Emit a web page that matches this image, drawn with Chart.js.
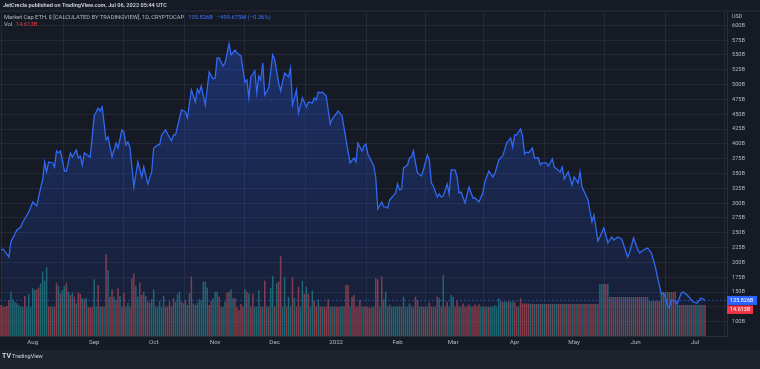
<!DOCTYPE html>
<html>
<head>
<meta charset="utf-8">
<title>Market Cap ETH</title>
<script src="https://cdn.jsdelivr.net/npm/chart.js@4.4.0/dist/chart.umd.min.js"></script>
<style>
  html, body { margin: 0; padding: 0; background: #161a25; }
  #wrap { position: relative; width: 760px; height: 369px; }
</style>
</head>
<body>
<div id="wrap"><canvas id="chart" width="760" height="369"></canvas></div>
<script>
// day 0 = 16 Jul 2021, last bar = 6 Jul 2022 (day 355)
const monthDays = [16, 47, 77, 108, 138, 169, 200, 228, 259, 289, 320, 350];
const monthLabels = ['Aug', 'Sep', 'Oct', 'Nov', 'Dec', '2022', 'Feb', 'Mar', 'Apr', 'May', 'Jun', 'Jul'];

// price axis ticks, billions USD (125B hidden behind the price labels)
const priceTicks = [100, 125, 150, 175, 200, 225, 250, 275, 300, 325, 350, 375, 400, 425, 450, 475, 500, 525, 550, 575, 600];

// market cap line (day index, billions)
const capDays = [
  0, 1, 4, 5, 8, 10, 11, 14, 16, 18,
  20, 21, 22, 23, 24, 26, 27, 28, 29, 30,
  32, 33, 35, 36, 38, 39, 40, 41, 42, 45,
  47, 49, 50, 51, 53, 54, 56, 58, 59, 61,
  62, 63, 64, 65, 67, 69, 71, 72, 74, 76,
  77, 79, 80, 81, 83, 84, 86, 87, 88, 89,
  91, 93, 94, 96, 98, 99, 100, 101, 103, 105,
  107, 108, 109, 110, 112, 113, 115, 116, 118, 119,
  121, 123, 124, 125, 126, 128, 129, 130, 131, 132,
  133, 135, 137, 138, 140, 141, 143, 145, 146, 147,
  149, 150, 152, 154, 155, 157, 158, 159, 160, 161,
  162, 164, 166, 167, 170, 172, 174, 176, 178, 179,
  180, 182, 183, 184, 185, 188, 189, 190, 192, 193,
  194, 195, 196, 199, 200, 201, 202, 203, 205, 206,
  207, 208, 209, 210, 212, 213, 215, 216, 217, 218,
  220, 221, 222, 223, 225, 226, 227, 229, 230, 231,
  232, 234, 236, 238, 239, 241, 243, 244, 246, 248,
  249, 251, 253, 255, 257, 258, 259, 260, 262, 263,
  264, 265, 266, 268, 269, 271, 272, 273, 275, 276,
  278, 279, 282, 283, 284, 286, 288, 289, 291, 292,
  293, 296, 298, 299, 301, 302, 304, 305, 306, 308,
  309, 311, 313, 316, 317, 319, 321, 322, 324, 326,
  328, 330, 331, 333, 334, 335, 336, 337, 338, 340,
  341, 343, 344, 346, 349, 351, 353, 355
];
const capValues = [
  220.9, 222.6, 209.1, 234.4, 254.7, 259.7, 268.2, 285.0, 301.9, 295.2,
  325.5, 339.0, 369.4, 352.5, 369.4, 367.7, 361.0, 387.9, 384.6, 387.9,
  354.2, 354.2, 384.6, 377.8, 389.6, 376.1, 379.5, 364.3, 384.6, 377.8,
  447.0, 460.5, 455.4, 462.2, 406.5, 411.6, 377.8, 401.4, 393.0, 423.4,
  420.0, 398.1, 403.1, 394.7, 327.2, 369.4, 344.1, 361.0, 332.3, 352.5,
  393.0, 398.1, 398.1, 415.0, 423.4, 416.6, 404.8, 415.0, 415.0, 428.9,
  457.1, 453.7, 443.6, 490.9, 470.6, 492.5, 485.8, 497.6, 465.5, 521.2,
  509.4, 511.1, 544.8, 544.8, 531.3, 536.4, 568.5, 549.9, 558.3, 553.3,
  548.2, 504.3, 507.7, 477.4, 512.8, 522.9, 485.8, 514.5, 507.7, 536.4,
  482.4, 494.2, 549.9, 543.1, 502.7, 489.2, 519.5, 512.8, 528.0, 465.5,
  490.9, 451.9, 477.4, 462.2, 470.6, 468.9, 477.4, 474.0, 487.5, 485.8,
  487.5, 480.7, 433.5, 441.9, 455.4, 447.0, 406.5, 367.7, 376.1, 369.4,
  401.4, 387.9, 396.3, 399.7, 382.9, 362.6, 342.4, 290.1, 301.9, 293.5,
  293.5, 291.8, 305.3, 317.1, 332.3, 322.2, 323.8, 359.3, 364.3, 376.1,
  377.8, 387.9, 367.7, 350.8, 345.8, 355.9, 381.2, 372.8, 334.0, 328.9,
  310.3, 315.4, 310.3, 312.0, 332.3, 315.4, 355.9, 355.9, 344.1, 317.1,
  318.8, 300.2, 327.2, 308.6, 308.6, 301.9, 317.1, 335.7, 354.2, 344.1,
  349.2, 372.8, 379.5, 401.4, 409.9, 394.7, 415.0, 415.0, 425.1, 413.3,
  382.9, 386.3, 384.6, 393.0, 376.1, 376.1, 364.3, 367.7, 367.7, 362.6,
  374.4, 361.0, 352.5, 361.0, 340.7, 352.5, 330.6, 344.1, 334.0, 352.5,
  327.2, 305.3, 268.2, 280.0, 236.1, 242.9, 258.0, 246.2, 232.7, 242.9,
  237.8, 242.9, 239.5, 209.1, 217.5, 241.2, 222.6, 215.8, 220.9, 224.3,
  215.8, 192.2, 175.3, 146.6, 148.3, 141.5, 128.0, 123.0, 136.5, 134.8,
  129.7, 148.3, 150.0, 144.9, 133.1, 131.5, 139.9, 135.826
];

// daily volume in billions, one per day from day 0
const volume = [
  14.6, 13.8, 13.8, 14.1, 17.0, 20.9, 17.3, 16.2, 15.4, 14.6,
  13.8, 13.8, 18.9, 13.8, 19.8, 13.8, 22.5, 21.7, 22.0, 22.9,
  24.8, 30.3, 26.1, 32.4, 13.8, 13.8, 13.8, 13.8, 25.1, 23.6,
  20.1, 21.7, 23.6, 25.1, 20.9, 19.3, 20.4, 18.5, 15.4, 20.4,
  19.8, 17.8, 17.3, 18.1, 13.5, 13.5, 13.5, 26.7, 13.8, 24.0,
  13.8, 13.8, 13.8, 38.6, 31.1, 18.5, 22.0, 18.5, 17.0, 22.5,
  18.9, 13.8, 20.4, 13.8, 15.7, 13.8, 27.2, 29.5, 23.6, 18.5,
  25.1, 19.3, 20.9, 18.9, 16.2, 15.7, 17.3, 22.0, 13.8, 13.8,
  16.6, 13.5, 18.9, 13.8, 13.8, 16.2, 13.8, 17.8, 16.2, 19.8,
  20.9, 16.2, 15.4, 17.0, 14.6, 20.1, 28.0, 15.4, 14.6, 15.7,
  17.3, 16.6, 25.6, 25.6, 22.9, 14.6, 16.6, 17.8, 20.9, 20.9,
  18.5, 13.8, 13.8, 16.2, 20.4, 20.9, 22.0, 17.8, 17.8, 13.5,
  12.2, 15.1, 13.8, 22.0, 20.9, 20.1, 13.8, 19.8, 13.8, 13.8,
  21.7, 13.8, 13.8, 26.1, 13.8, 13.8, 22.6, 28.3, 13.8, 25.0,
  25.6, 37.7, 13.8, 27.7, 13.8, 18.5, 13.8, 27.7, 17.9, 13.8,
  23.2, 13.8, 26.1, 19.8, 23.2, 19.8, 13.8, 21.4, 16.6, 13.8,
  17.3, 13.8, 13.8, 13.8, 13.8, 17.3, 13.8, 13.8, 13.8, 13.8,
  13.8, 13.8, 14.1, 13.8, 24.0, 24.0, 13.8, 18.5, 19.3, 13.8,
  13.8, 17.0, 13.8, 13.8, 13.8, 13.8, 13.2, 13.8, 13.8, 27.2,
  26.7, 13.8, 28.0, 17.3, 20.9, 13.8, 14.8, 13.8, 13.8, 14.0,
  13.8, 14.0, 13.8, 18.5, 13.8, 13.8, 15.3, 13.8, 13.8, 18.5,
  17.0, 13.8, 13.8, 13.8, 13.8, 13.8, 15.8, 13.8, 13.8, 13.8,
  18.5, 17.8, 13.8, 28.8, 13.8, 16.2, 13.8, 19.3, 18.5, 13.8,
  16.6, 13.8, 13.8, 15.3, 13.8, 13.8, 14.8, 13.8, 13.8, 14.8,
  13.8, 14.8, 13.8, 13.8, 13.8, 13.8, 13.8, 13.8, 13.8, 14.5,
  13.8, 17.8, 16.2, 16.2, 16.2, 16.2, 16.2, 16.2, 16.2, 16.2,
  13.8, 13.8, 17.8, 15.3, 15.3, 15.3, 15.3, 15.1, 15.1, 15.1,
  15.1, 15.1, 15.1, 15.1, 15.1, 15.1, 15.1, 15.1, 15.1, 15.1,
  15.1, 15.1, 15.1, 15.1, 15.1, 15.1, 15.1, 15.1, 15.1, 15.1,
  15.1, 15.1, 15.1, 15.1, 15.1, 15.1, 15.1, 15.1, 15.1, 15.1,
  15.1, 15.1, 24.5, 24.5, 24.5, 24.5, 24.5, 18.4, 18.4, 18.4,
  18.4, 18.4, 18.4, 18.4, 18.4, 18.4, 18.4, 18.4, 18.4, 18.4,
  18.4, 18.4, 18.4, 18.4, 18.4, 18.4, 18.4, 16.5, 16.5, 16.5,
  16.5, 16.5, 16.5, 20.7, 20.7, 20.7, 20.7, 20.7, 20.7, 20.7,
  20.7, 14.6, 14.6, 14.6, 14.6, 14.6, 14.6, 14.6, 14.6, 14.6,
  14.6, 14.6, 14.6, 14.6, 14.6, 14.613
];

// 1 = up day (teal), 0 = down day (red)
const volUp = [
  0, 0, 0, 0, 0, 1, 1, 1, 1, 1,
  1, 1, 0, 1, 1, 1, 1, 1, 0, 0,
  1, 1, 1, 1, 0, 0, 1, 0, 0, 1,
  0, 1, 1, 0, 1, 0, 1, 0, 1, 0,
  0, 1, 0, 1, 0, 0, 0, 1, 1, 0,
  1, 0, 1, 0, 1, 0, 0, 1, 0, 0,
  1, 0, 0, 1, 1, 0, 0, 0, 1, 1,
  0, 0, 1, 0, 0, 1, 1, 1, 1, 1,
  1, 1, 1, 0, 0, 0, 1, 0, 1, 1,
  1, 0, 1, 0, 1, 1, 0, 1, 0, 1,
  1, 1, 1, 1, 1, 0, 0, 1, 1, 1,
  0, 0, 1, 1, 0, 0, 1, 1, 0, 0,
  0, 0, 0, 1, 0, 1, 0, 0, 1, 1,
  1, 0, 1, 0, 1, 0, 1, 1, 0, 1,
  0, 0, 1, 1, 0, 1, 1, 0, 1, 0,
  0, 1, 1, 0, 1, 0, 1, 1, 0, 0,
  1, 0, 1, 0, 0, 0, 1, 0, 1, 0,
  0, 1, 1, 0, 0, 0, 1, 0, 0, 0,
  0, 0, 1, 0, 0, 0, 0, 1, 0, 0,
  0, 1, 0, 1, 1, 0, 1, 1, 1, 1,
  1, 1, 0, 1, 1, 1, 1, 0, 1, 0,
  0, 1, 1, 0, 0, 1, 0, 0, 1, 0,
  0, 1, 0, 1, 0, 0, 1, 1, 1, 0,
  0, 0, 1, 0, 0, 0, 0, 1, 0, 0,
  0, 0, 1, 1, 0, 1, 0, 1, 1, 1,
  1, 1, 1, 0, 1, 1, 0, 1, 1, 0,
  0, 1, 0, 0, 0, 0, 0, 1, 0, 1,
  0, 1, 0, 1, 1, 0, 0, 1, 0, 1,
  1, 0, 0, 1, 0, 1, 0, 0, 1, 0,
  1, 0, 0, 1, 0, 0, 1, 0, 0, 0,
  1, 0, 1, 1, 0, 0, 1, 0, 0, 1,
  0, 0, 1, 0, 1, 0, 0, 1, 0, 1,
  0, 0, 0, 1, 0, 0, 1, 1, 0, 1,
  0, 0, 0, 1, 0, 1, 1, 0, 1, 0,
  0, 1, 1, 0, 0, 1, 0, 1, 0, 1,
  0, 1, 1, 0, 1, 0
];

const lastCap = 135.826;
const lastVol = 14.613;

const BG = '#161a25';
const GRID = 'rgba(60,66,86,0.35)';
const TEXT = '#b2b5be';
const BLUE = '#2962ff';
const RED = '#f23645';
const FONT = 'Roboto, "Noto Sans", sans-serif';

// backgrounds, header, price labels, logo
const tvDecor = {
  id: 'tvDecor',
  beforeDraw(chart) {
    const c = chart.ctx;
    c.save();
    c.fillStyle = BG;
    c.fillRect(0, 0, chart.width, chart.height);
    c.fillStyle = '#1e222d';
    c.fillRect(0, 350, chart.width, 19); // bottom strip
    c.fillStyle = '#2a2e39';
    c.fillRect(0, 10.5, chart.width, 1);
    c.restore();
  },
  afterDatasetsDraw(chart) {
    // dotted last-price line
    const c = chart.ctx;
    const ca = chart.chartArea;
    const y = Math.round(chart.scales.y.getPixelForValue(lastCap)) + 0.5;
    c.save();
    c.strokeStyle = 'rgba(41,98,255,0.55)';
    c.lineWidth = 1;
    c.setLineDash([2, 2]);
    c.beginPath();
    c.moveTo(ca.left, y);
    c.lineTo(ca.right, y);
    c.stroke();
    c.restore();
  },
  afterDraw(chart) {
    const c = chart.ctx;
    c.save();
    c.textBaseline = 'middle';

    // publisher line
    c.font = '600 5.6px ' + FONT;
    c.fillStyle = '#d1d4dc';
    c.fillText('JetCrecla published on TradingView.com, Jul 06, 2022 05:44 UTC', 3, 5.3);

    // legend
    c.font = '5.8px ' + FONT;
    let x = 4;
    c.fillStyle = TEXT;
    const title = 'Market Cap ETH, $ [CALCULATED BY TRADINGVIEW], 1D, CRYPTOCAP';
    c.fillText(title, x, 17.3);
    x += c.measureText(title).width + 4;
    c.fillStyle = '#3d74ff';
    c.fillText('135.826B', x, 17.3);
    x += c.measureText('135.826B').width + 4;
    c.fillText('\u2212499.675M (\u22120.36%)', x, 17.3);

    c.fillStyle = TEXT;
    c.fillText('Vol', 4, 24.2);
    c.fillStyle = RED;
    c.fillText('14.613B', 16, 24.2);

    // axis unit
    c.fillStyle = TEXT;
    c.font = '5.5px ' + FONT;
    c.fillText('USD', 732, 16.7);

    // last value labels on the price axis
    const yp = chart.scales.y.getPixelForValue(lastCap);
    c.fillStyle = BLUE;
    c.fillRect(727, yp - 4.5, 30, 9);
    c.fillStyle = RED;
    c.fillRect(727, yp + 5, 26, 8.5);
    c.fillStyle = '#ffffff';
    c.font = '5.5px ' + FONT;
    c.fillText(lastCap.toFixed(3) + 'B', 730, yp);
    c.fillText(lastVol.toFixed(3) + 'B', 730, yp + 9.3);

    // TradingView logo
    c.fillStyle = '#d1d4dc';
    c.font = 'bold 7px ' + FONT;
    c.fillText('TV', 2, 356.5);
    c.font = '5.6px ' + FONT;
    c.fillText('TradingView', 12, 356.8);
    c.restore();
  }
};

const areaFill = (ctx) => {
  const ca = ctx.chart.chartArea;
  if (!ca) return 'rgba(41,98,255,0.2)';
  const g = ctx.chart.ctx.createLinearGradient(0, ca.top, 0, ca.bottom);
  g.addColorStop(0, 'rgba(41,98,255,0.34)');
  g.addColorStop(1, 'rgba(41,98,255,0.06)');
  return g;
};

new Chart(document.getElementById('chart'), {
  type: 'line',
  data: {
    datasets: [
      {
        type: 'line',
        data: capDays.map((d, i) => ({ x: d, y: capValues[i] })),
        borderColor: '#3068f2',
        borderWidth: 1.3,
        backgroundColor: areaFill,
        fill: 'start',
        pointRadius: 0,
        tension: 0,
        yAxisID: 'y',
        order: 1
      },
      {
        type: 'bar',
        data: volume.map((v, i) => ({ x: i, y: v })),
        backgroundColor: volUp.map(u => u ? 'rgba(38,166,154,0.55)' : 'rgba(239,83,80,0.55)'),
        barPercentage: 0.75,
        categoryPercentage: 1,
        yAxisID: 'yVol',
        order: 2
      }
    ]
  },
  options: {
    responsive: false,
    animation: false,
    devicePixelRatio: 1,
    layout: { padding: { top: 12, bottom: 19, left: 0, right: 0 } },
    plugins: { legend: { display: false }, tooltip: { enabled: false } },
    scales: {
      x: {
        type: 'linear',
        min: -0.5,
        max: 366.1,
        offset: false,
        grid: { color: GRID, drawTicks: false },
        border: { color: '#2a2e39' },
        afterBuildTicks: (axis) => { axis.ticks = monthDays.map(v => ({ value: v })); },
        afterFit: (axis) => { axis.height = 14; },
        ticks: {
          autoSkip: false,
          maxRotation: 0,
          padding: 3,
          color: TEXT,
          font: { family: FONT, size: 6.2 },
          callback: (v) => monthLabels[monthDays.indexOf(v)]
        }
      },
      y: {
        position: 'right',
        min: 75.8,
        max: 622.4,
        grid: { color: GRID, drawTicks: false },
        border: { color: '#2a2e39' },
        afterBuildTicks: (axis) => { axis.ticks = priceTicks.map(v => ({ value: v })); },
        afterFit: (axis) => { axis.width = 33; },
        ticks: {
          padding: 5,
          color: TEXT,
          font: { family: FONT, size: 5.6 },
          callback: (v) => v === 125 ? '' : v + 'B'
        }
      },
      yVol: {
        display: false,
        min: 0,
        max: 152.7
      }
    }
  },
  plugins: [tvDecor]
});
</script>
</body>
</html>
